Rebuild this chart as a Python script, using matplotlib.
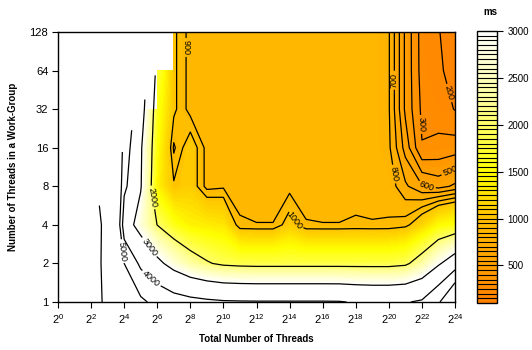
import numpy as np
import matplotlib.pyplot as plt
from matplotlib.colors import LinearSegmentedColormap

plt.rcParams['font.family'] = ['Liberation Sans', 'DejaVu Sans']
plt.rcParams['mathtext.default'] = 'regular'

nan = np.nan

# log2 of the total number of threads (x) and of the work-group size (y)
total_exp = list(range(0, 25))
group_exp = list(range(0, 8))

# execution time in ms, one list per work-group size (nan = group larger than total)
#            2^0    2^1    2^2    2^3   2^4   2^5   2^6   2^7   2^8   2^9  2^10  2^11  2^12  2^13  2^14  2^15  2^16  2^17  2^18  2^19  2^20  2^21  2^22  2^23  2^24
time_wg1 = [25000, 18000, 12000, 9000, 6000, 5200, 4700, 4400, 4250, 4150, 4080, 4060, 4050, 4050, 4050, 4050, 4050, 4040, 3950, 3900, 3900, 3950, 4100, 4850, 6500]
time_wg2 = [nan, 16000, 11500, 9000, 5000, 3800, 3200, 2700, 2300, 2050, 1900, 1850, 1830, 1830, 1830, 1830, 1830, 1830, 1830, 1830, 1830, 1900, 2300, 2900, 3500]
time_wg4 = [nan, nan, 11000, 9400, 3400, 2700, 1990, 1600, 1400, 1350, 1300, 910, 902, 902, 1080, 905, 902, 902, 910, 905, 910, 950, 1150, 1450, 1550]
time_wg8 = [nan, nan, nan, 9000, 4200, 3050, 1400, 1020, 1100, 860, 880, 870, 870, 870, 860, 870, 870, 870, 870, 870, 860, 720, 610, 560, 620]
time_wg16 = [nan, nan, nan, nan, 4500, 3100, 1500, 880, 1100, 860, 870, 870, 870, 870, 870, 870, 870, 870, 870, 870, 820, 560, 305, 330, 350]
time_wg32 = [nan, nan, nan, nan, nan, 3400, 1600, 1030, 855, 870, 870, 870, 870, 870, 870, 870, 870, 870, 870, 870, 810, 480, 280, 250, 195]
time_wg64 = [nan, nan, nan, nan, nan, nan, 1800, 1030, 855, 870, 870, 870, 870, 870, 870, 870, 870, 870, 870, 870, 810, 480, 260, 215, 165]
time_wg128 = [nan, nan, nan, nan, nan, nan, nan, 1030, 855, 870, 870, 870, 870, 870, 870, 870, 870, 870, 870, 870, 810, 480, 256, 205, 150]

line_levels = [200, 300, 400, 500, 600, 700, 800, 900, 1000, 2000, 3000, 4000, 5000, 10000]
fill_levels = np.arange(100, 3001, 50)
cbar_ticks = [500, 1000, 1500, 2000, 2500, 3000]

Z = np.ma.masked_invalid(np.array([time_wg1, time_wg2, time_wg4, time_wg8,
                                   time_wg16, time_wg32, time_wg64, time_wg128]))
X, Y = np.meshgrid(total_exp, group_exp)

cmap = LinearSegmentedColormap.from_list('ms', [
    (0.0, '#FF7F00'), (400 / 2900, '#FF9E00'), (900 / 2900, '#FFC000'),
    (1400 / 2900, '#FFFF00'), (2150 / 2900, '#FFFF99'), (1.0, '#FFFFFF')])

fig = plt.figure(figsize=(5.32, 3.5), dpi=100)
ax = fig.add_axes([58 / 532, 48 / 350, 397 / 532, 270 / 350])
cax = fig.add_axes([477 / 532, 47 / 350, 20 / 532, 272 / 350])

# fill skips every cell touching a missing value, lines run up to the diagonal
cf = ax.contourf(X, Y, Z, levels=fill_levels, cmap=cmap, corner_mask=False)
cs = ax.contour(X, Y, Z, levels=line_levels, colors='black', linewidths=0.9,
                corner_mask=True)
label_pos = [(7.7, 6.6), (14.45, 2.15), (5.56, 2.7), (5.45, 1.4), (5.56, 0.57),
             (3.55, 1.3), (20.05, 3.3), (20.3, 5.75), (22.3, 3.1),
             (23.6, 3.5), (21.8, 4.6), (23.5, 5.4)]
ax.clabel(cs, fmt='%d', fontsize=6.5, inline=True, inline_spacing=2,
          manual=label_pos)

ax.set_xlim(0, 24)
ax.set_ylim(0, 7)
ax.set_xticks(total_exp[::2])
ax.set_xticklabels(['$2^{%d}$' % e for e in total_exp[::2]])
ax.set_yticks(group_exp)
ax.set_yticklabels([str(2 ** e) for e in group_exp])
ax.tick_params(direction='out', length=4, width=0.8, labelsize=8, pad=3)
for s in ax.spines.values():
    s.set_linewidth(1.0)
ax.set_xlabel('Total Number of Threads', fontsize=7, fontweight='bold', labelpad=6)
ax.set_ylabel('Number of Threads in a Work-Group', fontsize=7, fontweight='bold',
              labelpad=8)

cb = fig.colorbar(cf, cax=cax, ticks=cbar_ticks, drawedges=True)
cb.dividers.set_linewidth(0.8)
cb.outline.set_linewidth(1.0)
cax.tick_params(direction='out', length=4, width=0.8, labelsize=7)
fig.text(490 / 532, 1 - 12 / 350, 'ms', fontsize=7, fontweight='bold',
         ha='center', va='center')

fig.savefig('out.png', dpi=100)
